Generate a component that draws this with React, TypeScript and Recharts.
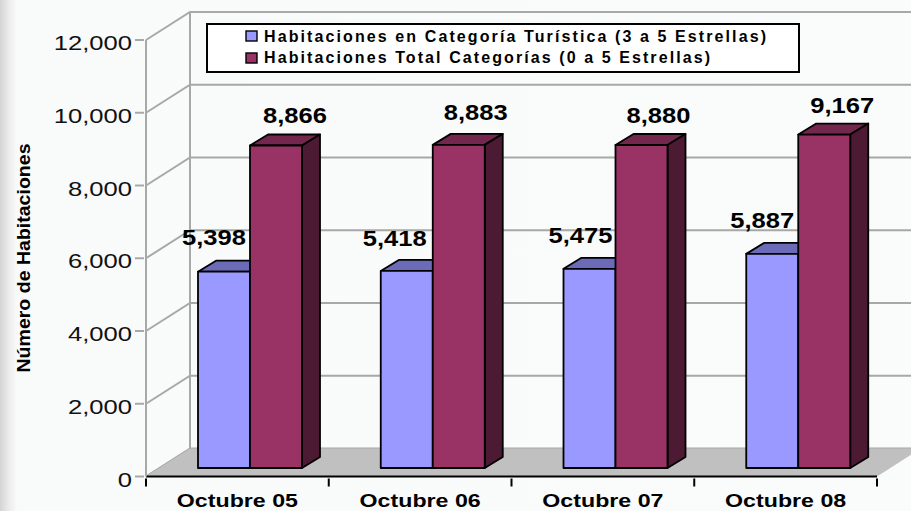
import { ComposedChart, Bar, XAxis, YAxis, CartesianGrid, Legend, LabelList, ReferenceArea } from 'recharts';

const categories = ['Octubre 05', 'Octubre 06', 'Octubre 07', 'Octubre 08'];
const turisticaValues = [5398, 5418, 5475, 5887];
const totalValues = [8866, 8883, 8880, 9167];
const yTicks = [0, 2000, 4000, 6000, 8000, 10000, 12000];

const chartData = categories.map((name, i) => ({
  name,
  turistica: turisticaValues[i],
  total: totalValues[i],
}));

const WALL_DX = 44;
const WALL_DY = 28;
const BAR_DX = 13;
const BAR_DY = 8.5;
const DEPTH_X = 18;
const DEPTH_Y = 11;
const GRID = '#a8a8a8';

// label nudges relative to each bar's centre
const turisticaNudge = [[-10, -27], [-12, -25], [-9, -26], [-10, -26]];
const totalNudge = [[19, -22], [17, -25], [17, -22], [18, -22]];

const fmt = (v: number) => v.toLocaleString('en-US');

function Bar3D(props: any) {
  const { x, y, width, height, front, top, side } = props;
  const l = x + BAR_DX;
  const r = l + width;
  const t = y - BAR_DY;
  const b = t + height;
  return (
    <g stroke="#000" strokeWidth={1.8} strokeLinejoin="round">
      <polygon points={`${l},${t} ${l + DEPTH_X},${t - DEPTH_Y} ${r + DEPTH_X},${t - DEPTH_Y} ${r},${t}`} fill={top} />
      <polygon points={`${r},${t} ${r + DEPTH_X},${t - DEPTH_Y} ${r + DEPTH_X},${b - DEPTH_Y} ${r},${b}`} fill={side} />
      <rect x={l} y={t} width={width} height={height} fill={front} />
    </g>
  );
}

// drawn with the plot area the library hands to the reference area
function Floor(props: any) {
  const { x, y, width, height } = props;
  const b = y + height;
  return (
    <g>
      <polygon
        points={`${x},${b} ${x + width},${b} ${x + width + WALL_DX},${b - WALL_DY} ${x + WALL_DX},${b - WALL_DY}`}
        fill="#c0c0c0"
      />
      <line x1={x + WALL_DX} y1={y - WALL_DY} x2={x + WALL_DX} y2={b - WALL_DY} stroke={GRID} strokeWidth={2} />
    </g>
  );
}

function WallLine(props: any) {
  const { x1, y1, x2 } = props;
  return (
    <path
      d={`M${x1},${y1} L${x1 + WALL_DX},${y1 - WALL_DY} L${x2 + WALL_DX},${y1 - WALL_DY}`}
      fill="none"
      stroke={GRID}
      strokeWidth={2}
    />
  );
}

function YTick({ x, y, payload }: any) {
  return (
    <g>
      <line x1={x + 5} y1={y} x2={x + 14} y2={y} stroke={GRID} strokeWidth={2} />
      <text
        transform={`translate(${x + 2},${y + 10}) scale(1.22,1)`}
        textAnchor="end"
        fontFamily="Liberation Sans"
        fontSize={21}
        fill="#111"
      >
        {fmt(payload.value)}
      </text>
    </g>
  );
}

// the ticks sit on the band edges, not under the labels
function XTick({ x, y, payload, index, width, visibleTicksCount }: any) {
  const band = width / visibleTicksCount;
  const edge = x - band / 2;
  const top = y - 8;
  return (
    <g>
      <line x1={edge} y1={top} x2={edge} y2={top + 8} stroke="#000" strokeWidth={2} />
      {index === visibleTicksCount - 1 && (
        <line x1={edge + band} y1={top} x2={edge + band} y2={top + 8} stroke="#000" strokeWidth={2} />
      )}
      <text
        transform={`translate(${x},${y + 20.5}) scale(1.22,1)`}
        textAnchor="middle"
        fontFamily="Liberation Sans"
        fontWeight="bold"
        fontSize={19}
        fill="#000"
      >
        {payload.value}
      </text>
    </g>
  );
}

function valueLabel(nudge: number[][]) {
  return (props: any) => {
    const { x, y, width, value, index } = props;
    const [dx, dy] = nudge[index];
    return (
      <text
        transform={`translate(${x + BAR_DX + width / 2 + dx},${y - BAR_DY + dy}) scale(1.16,1)`}
        textAnchor="middle"
        fontFamily="Liberation Sans"
        fontWeight="bold"
        fontSize={22}
        fill="#000"
      >
        {fmt(value)}
      </text>
    );
  };
}

function AxisTitle() {
  return (
    <text
      transform="translate(30,258) rotate(-90)"
      textAnchor="middle"
      fontFamily="Liberation Sans"
      fontWeight="bold"
      fontSize={18}
      textLength={229}
      lengthAdjust="spacingAndGlyphs"
      fill="#000"
    >
      Número de Habitaciones
    </text>
  );
}

const legendLengths = [502, 446];

function LegendBox({ payload }: any) {
  return (
    <svg width={594} height={51} style={{ display: 'block' }}>
      <rect x={1} y={1} width={592} height={48} fill="#fff" stroke="#000" strokeWidth={2} />
      {(payload || []).map((item: any, i: number) => (
        <g key={item.value}>
          <rect x={40} y={8 + i * 22} width={11} height={10} fill={item.color} stroke="#000" strokeWidth={1.4} />
          <text
            x={58}
            y={18.6 + i * 21.7}
            fontFamily="Liberation Sans"
            fontWeight="bold"
            fontSize={16}
            textLength={legendLengths[i]}
            fill="#000"
          >
            {item.value}
          </text>
        </g>
      ))}
    </svg>
  );
}

export default function App() {
  return (
    <div
      style={{
        position: 'absolute',
        left: 0,
        top: 0,
        width: 911,
        height: 511,
        overflow: 'hidden',
        background: 'linear-gradient(to right, #d4d4d4 0px, #ececec 9px, #f9fafa 17px, #fafbfb 100%)',
      }}
    >
      <ComposedChart
        width={911}
        height={511}
        data={chartData}
        margin={{ top: 40, right: 34, bottom: 0, left: 0 }}
        barSize={52}
        barGap={0}
        style={{ overflow: 'visible' }}
      >
        <ReferenceArea y1={0} y2={12000} ifOverflow="visible" shape={Floor} />
        <CartesianGrid vertical={false} horizontal={WallLine} />
        <XAxis
          dataKey="name"
          height={34.5}
          axisLine={{ stroke: '#000', strokeWidth: 2 }}
          tickLine={false}
          tickSize={8}
          interval={0}
          tick={XTick}
        />
        <YAxis
          width={146}
          domain={[0, 12000]}
          ticks={yTicks}
          axisLine={{ stroke: GRID, strokeWidth: 2 }}
          tickLine={false}
          tickSize={14}
          interval={0}
          tick={YTick}
          label={AxisTitle}
        />
        <Legend
          layout="horizontal"
          verticalAlign="middle"
          itemSorter={null}
          wrapperStyle={{ left: 206, top: 23, width: 594, height: 51 }}
          content={LegendBox}
        />
        <Bar
          dataKey="turistica"
          name="Habitaciones en Categoría Turística (3 a 5 Estrellas)"
          fill="#9999ff"
          isAnimationActive={false}
          shape={(p: any) => <Bar3D {...p} front="#9999ff" top="#6b6bb8" side="#4d4d80" />}
        >
          <LabelList dataKey="turistica" content={valueLabel(turisticaNudge)} />
        </Bar>
        <Bar
          dataKey="total"
          name="Habitaciones Total Categorías (0 a 5 Estrellas)"
          fill="#993366"
          isAnimationActive={false}
          shape={(p: any) => <Bar3D {...p} front="#993366" top="#73274d" side="#4d1a33" />}
        >
          <LabelList dataKey="total" content={valueLabel(totalNudge)} />
        </Bar>
      </ComposedChart>
    </div>
  );
}
